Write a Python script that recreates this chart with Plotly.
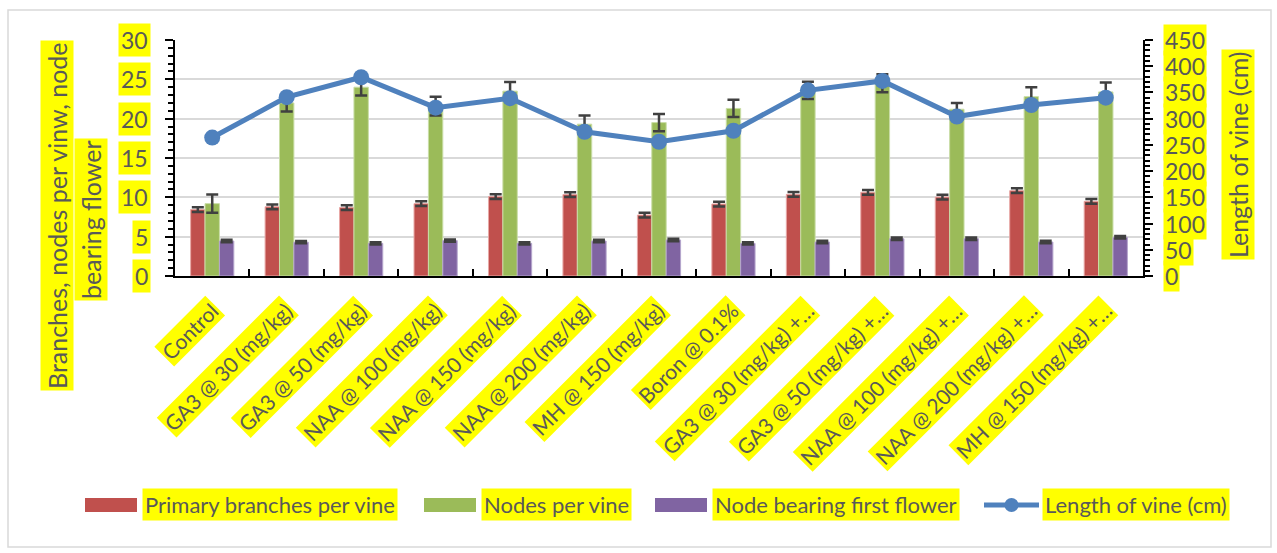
import plotly.graph_objects as go

# ---------------- data ----------------
categories = ["Control", "GA3 @ 30 (mg/kg)", "GA3 @ 50 (mg/kg)", "NAA @ 100 (mg/kg)",
              "NAA @ 150 (mg/kg)", "NAA @ 200 (mg/kg)", "MH @ 150 (mg/kg)", "Boron @ 0.1%",
              "GA3 @ 30 (mg/kg) +…", "GA3 @ 50 (mg/kg) +…", "NAA @ 100 (mg/kg) +…",
              "NAA @ 200 (mg/kg) +…", "MH @ 150 (mg/kg) +…"]
primary_branches = [8.45, 8.8, 8.7, 9.2, 10.1, 10.35, 7.75, 9.15, 10.38, 10.64, 10.04, 10.85, 9.49]
primary_err = [0.3, 0.3, 0.3, 0.3, 0.3, 0.3, 0.3, 0.3, 0.3, 0.3, 0.3, 0.3, 0.3]
nodes = [9.2, 22.0, 24.0, 21.6, 23.5, 19.3, 19.5, 21.3, 23.6, 24.5, 21.2, 22.8, 23.4]
nodes_err = [1.15, 1.1, 1.05, 1.2, 1.15, 1.1, 1.1, 1.1, 1.1, 1.15, 0.8, 1.2, 1.2]
first_flower = [4.45, 4.3, 4.15, 4.5, 4.15, 4.45, 4.58, 4.15, 4.32, 4.74, 4.74, 4.32, 4.92]
first_flower_err = [0.15, 0.15, 0.15, 0.15, 0.15, 0.15, 0.15, 0.15, 0.15, 0.15, 0.15, 0.15, 0.15]
vine_length = [264, 341, 379, 321, 339, 275, 256, 277, 354, 372, 304, 326, 340]

left_ticks = [0, 5, 10, 15, 20, 25, 30]
right_ticks = [0, 50, 100, 150, 200, 250, 300, 350, 400, 450]

series_names = ["Primary branches per vine", "Nodes per vine",
                "Node bearing first flower", "Length of vine (cm)"]
left_title_lines = ["Branches, nodes per vinw, node", "bearing flower"]
right_title = "Length of vine (cm)"

# ---------------- styles ----------------
RED, GREEN, PURPLE, BLUE = "#C0504D", "#9BBB59", "#8064A2", "#4F81BD"
TXT = "#595959"
HL = "#FFFF00"
FONT = "Lato"
W, H = 1277, 553
ML, MR, MT, MB = 175, 134, 40, 277
PW, PH = W - ML - MR, H - MT - MB


def px(xp):
    return (xp - ML) / PW


def py(yp):
    return (H - MB - yp) / PH


err_style = dict(type="data", color="#404040", thickness=2.5, width=6)

fig = go.Figure()
fig.add_trace(go.Bar(x=categories, y=primary_branches, name=series_names[0],
                     marker=dict(color=RED, line=dict(color="#E8A8A6", width=1)),
                     error_y=dict(array=primary_err, **err_style)))
fig.add_trace(go.Bar(x=categories, y=nodes, name=series_names[1],
                     marker=dict(color=GREEN, line=dict(color="#C9DDA6", width=1)),
                     error_y=dict(array=nodes_err, **err_style)))
fig.add_trace(go.Bar(x=categories, y=first_flower, name=series_names[2],
                     marker=dict(color=PURPLE, line=dict(color="#B5A5CC", width=1)),
                     error_y=dict(array=first_flower_err, **err_style)))
fig.add_trace(go.Scatter(x=categories, y=vine_length, name=series_names[3], yaxis="y2",
                         mode="lines+markers",
                         line=dict(color=BLUE, width=5),
                         marker=dict(color=BLUE, size=16, symbol="circle")))

annotations = []
# left tick labels
for v in left_ticks:
    annotations.append(dict(xref="paper", yref="y", x=0, y=v, xanchor="right", yanchor="middle",
                            xshift=-24, text=str(v), showarrow=False, bgcolor=HL, borderpad=2,
                            font=dict(family=FONT, size=23, color=TXT)))
# right tick labels
for v in right_ticks:
    annotations.append(dict(xref="paper", yref="y2", x=1, y=v, xanchor="left", yanchor="middle",
                            xshift=20, text=str(v), showarrow=False, bgcolor=HL, borderpad=1,
                            font=dict(family=FONT, size=23, color=TXT)))
# category labels
for c in categories:
    annotations.append(dict(xref="x", yref="paper", x=c, y=0, xanchor="right", yanchor="top",
                            xshift=13, yshift=-19, text=c, textangle=-45, showarrow=False,
                            bgcolor=HL, borderpad=1,
                            font=dict(family=FONT, size=21, color=TXT)))
# axis titles
annotations.append(dict(xref="paper", yref="paper", x=px(57), y=py(216), xanchor="center",
                        yanchor="middle", text=left_title_lines[0], textangle=-90, showarrow=False,
                        bgcolor=HL, borderpad=1, font=dict(family=FONT, size=25, color=TXT)))
annotations.append(dict(xref="paper", yref="paper", x=px(91), y=py(220), xanchor="center",
                        yanchor="middle", text=left_title_lines[1], textangle=-90, showarrow=False,
                        bgcolor=HL, borderpad=1, font=dict(family=FONT, size=25, color=TXT)))
annotations.append(dict(xref="paper", yref="paper", x=px(1238), y=py(155), xanchor="center",
                        yanchor="middle", text=right_title, textangle=-90, showarrow=False,
                        bgcolor=HL, borderpad=1, font=dict(family=FONT, size=25, color=TXT)))

# custom legend (highlighted labels)
shapes = []
leg_y = 505
legend_items = [
    ("bar", RED, 85, 137, 142, series_names[0]),
    ("bar", GREEN, 424, 476, 481, series_names[1]),
    ("bar", PURPLE, 655, 707, 712, series_names[2]),
    ("line", BLUE, 984, 1039, 1042, series_names[3]),
]
for kind, col, x0, x1, tx, name in legend_items:
    if kind == "bar":
        shapes.append(dict(type="rect", xref="paper", yref="paper", x0=px(x0), x1=px(x1),
                           y0=py(leg_y + 7), y1=py(leg_y - 7), fillcolor=col, line=dict(width=0)))
    else:
        shapes.append(dict(type="line", xref="paper", yref="paper", x0=px(x0), x1=px(x1),
                           y0=py(leg_y), y1=py(leg_y), line=dict(color=col, width=5)))
        cx = (x0 + x1) / 2
        shapes.append(dict(type="circle", xref="paper", yref="paper", x0=px(cx - 7), x1=px(cx + 7),
                           y0=py(leg_y + 7), y1=py(leg_y - 7), fillcolor=col, line=dict(width=0)))
    annotations.append(dict(xref="paper", yref="paper", x=px(tx), y=py(leg_y), xanchor="left",
                            yanchor="middle", text=name, showarrow=False, bgcolor=HL, borderpad=2,
                            font=dict(family=FONT, size=22, color=TXT)))

# chart border
shapes.append(dict(type="rect", xref="paper", yref="paper", x0=px(8), x1=px(1271),
                   y0=py(547), y1=py(10), line=dict(color="#D9D9D9", width=1.5), layer="below"))

fig.update_layout(
    width=W, height=H,
    margin=dict(l=ML, r=MR, t=MT, b=MB),
    paper_bgcolor="white", plot_bgcolor="white",
    barmode="group", bargap=0.42, bargroupgap=0,
    showlegend=False,
    font=dict(family=FONT, color=TXT),
    xaxis=dict(type="category", range=[-0.5, len(categories) - 0.5], autorange=False,
               showline=True, linecolor="black", linewidth=2,
               ticks="inside", tickson="boundaries", ticklen=7, tickwidth=2, tickcolor="black",
               showticklabels=False, showgrid=False, zeroline=False),
    yaxis=dict(range=[0, 30], autorange=False, dtick=5, showgrid=True, gridcolor="#D9D9D9",
               gridwidth=1.5,
               showline=True, linecolor="black", linewidth=2, ticks="outside", ticklen=8,
               tickwidth=2, tickcolor="black", showticklabels=False, zeroline=False,
               minor=dict(dtick=1, ticks="outside", ticklen=5, tickwidth=1.5, tickcolor="black",
                          showgrid=False)),
    yaxis2=dict(range=[0, 450], autorange=False, dtick=50, overlaying="y", side="right",
                showgrid=False,
                showline=True, linecolor="black", linewidth=2, ticks="outside", ticklen=8,
                tickwidth=2, tickcolor="black", showticklabels=False, zeroline=False,
                minor=dict(dtick=10, ticks="outside", ticklen=5, tickwidth=1.5, tickcolor="black",
                           showgrid=False)),
    annotations=annotations,
    shapes=shapes,
)

fig.write_html("out.html", config={"displayModeBar": False},
               post_script="document.body.style.margin='0px';")
